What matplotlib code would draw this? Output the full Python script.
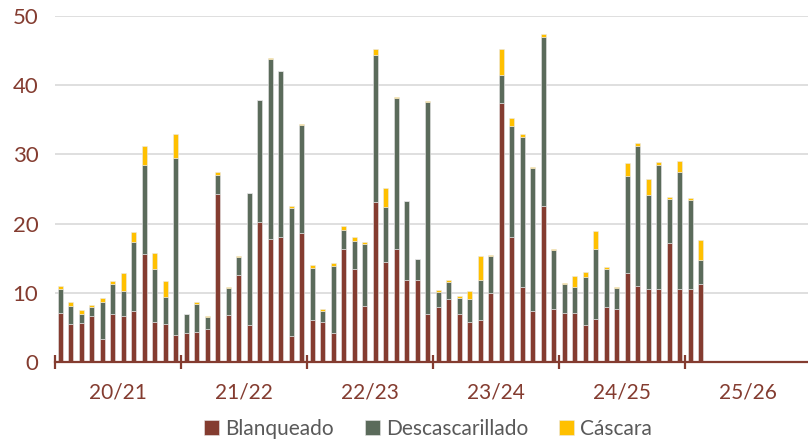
import matplotlib.pyplot as plt
import numpy as np

# temporadas y datos mensuales (12 meses por temporada)
seasons = ['20/21', '21/22', '22/23', '23/24', '24/25', '25/26']

blanqueado = [7.1, 5.5, 5.7, 6.6, 3.3, 7.0, 6.7, 7.3, 15.6, 5.8, 5.5, 3.9,
              4.2, 4.4, 4.8, 24.3, 6.85, 12.6, 5.4, 20.3, 17.8, 18.0, 3.8, 18.7,
              6.0, 5.8, 4.2, 16.4, 13.4, 8.15, 23.1, 14.4, 16.3, 11.9, 11.9, 7.0,
              7.9, 9.1, 7.0, 5.8, 6.1, 9.9, 37.5, 18.1, 10.8, 7.4, 22.6, 7.6,
              7.1, 7.1, 5.4, 6.2, 7.95, 7.6, 12.9, 11.0, 10.6, 10.5, 17.2, 10.6,
              10.6, 11.3]
descascarillado = [3.4, 2.65, 1.3, 1.4, 5.4, 4.3, 3.6, 10.1, 12.8, 7.7, 3.9, 25.6,
                   2.7, 4.0, 1.7, 2.7, 3.85, 2.6, 18.95, 17.5, 26.0, 24.0, 18.5, 15.6,
                   7.6, 1.6, 9.7, 2.7, 4.15, 8.95, 21.2, 8.0, 21.9, 11.3, 2.95, 30.6,
                   2.2, 2.5, 2.3, 3.3, 5.8, 5.4, 4.0, 16.0, 21.7, 20.6, 24.4, 8.6,
                   4.2, 3.8, 6.9, 10.2, 5.5, 3.1, 14.0, 20.2, 13.6, 18.0, 6.4, 16.9,
                   12.8, 3.45]
cascara = [0.5, 0.45, 0.5, 0.3, 0.6, 0.4, 2.5, 1.4, 2.8, 2.2, 2.3, 3.4,
           0.1, 0.2, 0.15, 0.4, 0.2, 0.1, 0.1, 0.1, 0.1, 0.1, 0.3, 0.1,
           0.4, 0.2, 0.4, 0.6, 0.45, 0.2, 0.9, 2.8, 0.1, 0.1, 0.1, 0.1,
           0.3, 0.2, 0.3, 1.2, 3.4, 0.2, 3.8, 1.2, 0.5, 0.25, 0.4, 0.2,
           0.1, 1.5, 0.7, 2.6, 0.25, 0.2, 1.9, 0.5, 2.2, 0.4, 0.2, 1.5,
           0.3, 2.95]

c_blanq = '#843C30'
c_desc = '#5B6B5B'
c_casc = '#FFC000'
c_text = '#843C30'

plt.rcParams['font.family'] = ['Lato', 'DejaVu Sans']

n = len(seasons) * 12
b = np.zeros(n); b[:len(blanqueado)] = blanqueado
d = np.zeros(n); d[:len(descascarillado)] = descascarillado
c = np.zeros(n); c[:len(cascara)] = cascara
x = np.arange(n) + 0.5

fig = plt.figure(figsize=(8.08, 4.42), dpi=100)
ax = fig.add_axes([55 / 808, 80 / 442, 753 / 808, 346 / 442])

w = 0.45
kw = dict(width=w, edgecolor='#E8E8E8', linewidth=0.4, zorder=3)
ax.bar(x, b, color=c_blanq, label='Blanqueado', **kw)
ax.bar(x, d, bottom=b, color=c_desc, label='Descascarillado', **kw)
ax.bar(x, c, bottom=b + d, color=c_casc, label='Cáscara', **kw)

ax.set_xlim(0, 72 * 753 / 756)
ax.set_ylim(0, 50)
ax.set_yticks(range(0, 51, 10))
ax.grid(axis='y', color='#D9D9D9', linewidth=1.2, zorder=0)
ax.set_axisbelow(True)

for s in ['top', 'right', 'left']:
    ax.spines[s].set_visible(False)
ax.spines['bottom'].set_color(c_blanq)
ax.spines['bottom'].set_linewidth(1.6)
ax.spines['bottom'].set_zorder(4)

ax.set_xticks(np.arange(0, n, 12))
ax.set_xticklabels([])
ax.tick_params(axis='x', which='major', direction='inout', length=10,
               width=1.6, color=c_blanq)
ax.set_xticks(np.arange(6, n, 12), minor=True)
ax.set_xticklabels(seasons, minor=True)
ax.tick_params(axis='x', which='minor', length=0, pad=15,
               labelsize=15, labelcolor=c_text)
ax.tick_params(axis='y', length=0, pad=12, labelsize=16, labelcolor=c_text)

leg = fig.legend(loc='lower center', bbox_to_anchor=(0.53, -0.035), ncol=3,
                 frameon=False, fontsize=15, handlelength=0.7,
                 handleheight=0.7, handletextpad=0.3, columnspacing=1.5)
for t in leg.get_texts():
    t.set_color('#595959')

fig.savefig('out.png', dpi=100)
